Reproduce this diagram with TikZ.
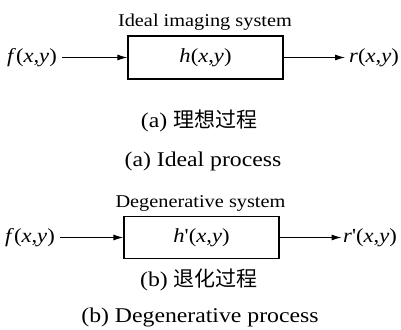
\documentclass[tikz,border=0pt]{standalone}
\usepackage{fontspec}
\setmainfont{Liberation Serif}[FakeStretch=1.13]
\newfontfamily\rawserif{Liberation Serif}[FakeStretch=1.13]
\newfontfamily\cjk{Noto Sans CJK SC}
\usetikzlibrary{arrows.meta}
\newcommand{\prm}{{\rawserif'}}
\begin{document}
\begin{tikzpicture}[x=1pt,y=1pt,
  sysbox/.style={draw, line width=1.3pt, inner sep=0pt},
  lbl/.style={inner sep=0pt, font=\fontsize{20}{24}\selectfont},
  syslbl/.style={inner sep=0pt, anchor=base, font=\fontsize{18}{21}\selectfont},
  captxt/.style={inner sep=0pt, anchor=base, font=\fontsize{21}{24}\selectfont},
  arr/.style={line width=1pt, -{Latex[length=10pt,width=6pt]}}]
\useasboundingbox (0,0) rectangle (401,329);
% (a) ideal
\node[syslbl] (t1) at (205,302) {Ideal imaging system};
\node[sysbox, minimum width=155pt, minimum height=43pt] (b1) at (205.5,271.5) {};
\node[lbl] (h1) at (b1.center) {\textit{h}(\textit{x},\textit{y})};
\node[lbl, anchor=east] (f1) at (57,271.5) {\textit{f}(\textit{x},\textit{y})};
\node[lbl, anchor=west] (r1) at (349,271.5) {\textit{r}(\textit{x},\textit{y})};
\draw[arr, shorten <=5pt] (f1) -- (b1);
\draw[arr, shorten >=4pt] (b1) -- (r1);
\node[captxt] (c1) at (199,201.7) {(a) {\cjk 理想过程}};
\node[captxt] (e1) at (203,162.5) {(a) Ideal process};
% (b) degenerative
\node[syslbl] (t2) at (200.5,121.7) {Degenerative system};
\node[sysbox, minimum width=155pt, minimum height=42pt] (b2) at (201.5,91.5) {};
\node[lbl] (h2) at (b2.center) {\textit{h}\prm(\textit{x},\textit{y})};
\node[lbl, anchor=east] (f2) at (55,91.5) {\textit{f}(\textit{x},\textit{y})};
\node[lbl, anchor=west] (r2) at (343,91.5) {\textit{r}\prm(\textit{x},\textit{y})};
\draw[arr, shorten <=5pt] (f2) -- (b2);
\draw[arr, shorten >=1.5pt] (b2) -- (r2);
\node[captxt] (c2) at (199,42.5) {(b) {\cjk 退化过程}};
\node[captxt] (e2) at (200,7) {(b) Degenerative process};
\end{tikzpicture}
\end{document}
